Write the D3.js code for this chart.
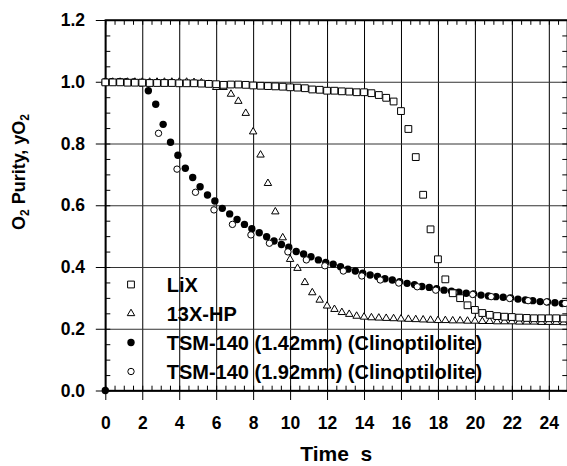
<!DOCTYPE html>
<html>
<head>
<meta charset="utf-8">
<script src="https://cdn.jsdelivr.net/npm/d3@7/dist/d3.min.js"></script>
<style>
  body { margin: 0; background: #fff; }
  svg { display: block; font-family: "Liberation Sans", Arial, sans-serif; font-weight: bold; }
</style>
</head>
<body>
<svg id="chart" width="567" height="466"></svg>
<script>
// --- data (time in s, O2 purity as fraction) ---
const xMajorTicks = [0, 2, 4, 6, 8, 10, 12, 14, 16, 18, 20, 22, 24];
const yMajorTicks = [0, 0.2, 0.4, 0.6, 0.8, 1.0, 1.2];

const lixTime = [0, 0.4, 0.8, 1.2, 1.6, 2, 2.4, 2.8, 3.2, 3.6, 4, 4.4, 4.8, 5.2, 5.6, 6, 6.4, 6.8, 7.2, 7.6, 8,
  8.4, 8.8, 9.2, 9.6, 10, 10.4, 10.8, 11.2, 11.6, 12, 12.4, 12.8, 13.2, 13.6, 14, 14.4, 14.8, 15.2, 15.6, 16,
  16.4, 16.8, 17.2, 17.6, 18, 18.4, 18.8, 19.2, 19.6, 20, 20.4, 20.8, 21.2, 21.6, 22, 22.4, 22.8, 23.2, 23.6, 24,
  24.4, 24.8];
const lixPurity = [0.998, 0.998, 0.998, 0.997, 0.997, 0.997, 0.996, 0.996, 0.996, 0.996, 0.995,
  0.995, 0.995, 0.994, 0.993, 0.992, 0.990, 0.991, 0.991, 0.990, 0.988,
  0.987, 0.986, 0.985, 0.984, 0.982, 0.981, 0.979, 0.975, 0.974, 0.971,
  0.971, 0.969, 0.968, 0.966, 0.966, 0.963, 0.957, 0.948, 0.936, 0.905,
  0.847, 0.756, 0.634, 0.522, 0.425, 0.360, 0.315, 0.299, 0.276, 0.261,
  0.251, 0.245, 0.241, 0.239, 0.238, 0.236, 0.235, 0.234, 0.234, 0.234,
  0.234, 0.233];

const x13Time = lixTime;
const x13Purity = [0.999, 0.999, 0.999, 0.999, 0.999, 0.999, 0.999, 0.999, 0.999, 0.999, 0.999,
  0.999, 0.998, 0.997, 0.992, 0.982, 0.982, 0.960, 0.937, 0.898, 0.838,
  0.763, 0.671, 0.579, 0.495, 0.425, 0.396, 0.350, 0.317, 0.293, 0.274,
  0.263, 0.253, 0.247, 0.241, 0.238, 0.236, 0.235, 0.234, 0.233, 0.232,
  0.231, 0.230, 0.229, 0.228, 0.227, 0.227, 0.226, 0.226, 0.225, 0.225,
  0.224, 0.224, 0.223, 0.223, 0.223, 0.222, 0.222, 0.222, 0.221, 0.221,
  0.221, 0.220];

const tsm142Time = [0, 0, 0.33, 0.73, 1.13, 1.53, 1.93, 2.33, 2.73, 3.13, 3.53, 3.93, 4.33, 4.73, 5.13, 5.53,
  5.93, 6.33, 6.73, 7.13, 7.53, 7.93, 8.33, 8.73, 9.13, 9.53, 9.93, 10.33, 10.73, 11.13, 11.53, 11.93, 12.33,
  12.73, 13.13, 13.53, 13.93, 14.33, 14.73, 15.13, 15.53, 15.93, 16.33, 16.73, 17.13, 17.53, 17.93, 18.33,
  18.73, 19.13, 19.53, 19.93, 20.33, 20.73, 21.13, 21.53, 21.93, 22.33, 22.73, 23.13, 23.53, 23.93, 24.33, 24.73];
const tsm142Purity = [0, 1.0, 1.0, 1.0, 1.0, 0.999, 0.996, 0.971, 0.927, 0.862, 0.804, 0.762, 0.720, 0.690,
  0.660, 0.633, 0.614, 0.590, 0.572, 0.554, 0.538, 0.524, 0.511, 0.498, 0.484, 0.473, 0.464, 0.450, 0.442,
  0.433, 0.423, 0.415, 0.409, 0.401, 0.393, 0.387, 0.380, 0.374, 0.369, 0.362, 0.358, 0.352, 0.347, 0.343,
  0.337, 0.334, 0.330, 0.325, 0.322, 0.318, 0.315, 0.313, 0.309, 0.306, 0.304, 0.302, 0.300, 0.296, 0.293,
  0.291, 0.288, 0.287, 0.284, 0.282];

const tsm192Time = [0.88, 1.88, 2.88, 3.88, 4.88, 5.88, 6.88, 7.88, 8.88, 9.88, 10.88, 11.88, 12.88, 13.88,
  14.88, 15.88, 16.88, 17.88, 18.88, 19.88, 20.88, 21.88, 22.88, 23.88, 24.88];
const tsm192Purity = [1.0, 0.998, 0.833, 0.717, 0.642, 0.585, 0.538, 0.504, 0.477, 0.449, 0.423, 0.404,
  0.387, 0.371, 0.358, 0.348, 0.336, 0.325, 0.317, 0.311, 0.304, 0.298, 0.291, 0.287, 0.282];

const seriesNames = ['LiX', '13X-HP', 'TSM-140 (1.42mm) (Clinoptilolite)', 'TSM-140 (1.92mm) (Clinoptilolite)'];

// --- layout ---
const svg = d3.select('#chart');
const x = d3.scaleLinear().domain([0, 25]).range([105.3, 567.3]);
const y = d3.scaleLinear().domain([0, 1.2]).range([390.5, 20]);
const plotW = x(25) - x(0);
const plotH = y(0) - y(1.2);

const xMinor = d3.range(0, 25.01, 0.5);
const yMinor = d3.range(0, 1.201, 0.05);

const styleAxis = (g, w) => {
  g.selectAll('line').attr('stroke', '#000').attr('stroke-width', w);
  g.selectAll('path').attr('stroke', '#000').attr('stroke-width', 1.4);
  g.attr('font-family', null).attr('font-size', null);
};

// grid
svg.append('g')
  .attr('transform', `translate(0,${y(0)})`)
  .call(d3.axisBottom(x).tickValues(xMajorTicks).tickSize(-plotH).tickFormat(''))
  .call(g => g.select('.domain').remove())
  .call(g => styleAxis(g, 1));
svg.append('g')
  .attr('transform', `translate(${x(0)},0)`)
  .call(d3.axisLeft(y).tickValues(yMajorTicks).tickSize(-plotW).tickFormat(''))
  .call(g => g.select('.domain').remove())
  .call(g => styleAxis(g, 1))
  .call(g => g.selectAll('line').attr('stroke', '#333'));

// minor ticks (inward) on all four sides
svg.append('g').attr('transform', `translate(0,${y(0)})`)
  .call(d3.axisBottom(x).tickValues(xMinor).tickSize(-4.8).tickSizeOuter(0).tickFormat(''))
  .call(g => styleAxis(g, 1));
svg.append('g').attr('transform', `translate(0,${y(1.2)})`)
  .call(d3.axisTop(x).tickValues(xMinor).tickSize(-4.8).tickSizeOuter(0).tickFormat(''))
  .call(g => styleAxis(g, 1));
svg.append('g').attr('transform', `translate(${x(0)},0)`)
  .call(d3.axisLeft(y).tickValues(yMinor).tickSize(-5).tickSizeOuter(0).tickFormat(''))
  .call(g => styleAxis(g, 1));
svg.append('g').attr('transform', `translate(${x(25)},0)`)
  .call(d3.axisRight(y).tickValues(yMinor).tickSize(-5).tickSizeOuter(0).tickFormat(''))
  .call(g => styleAxis(g, 1));

// major ticks with labels (outward)
svg.append('g').attr('transform', `translate(0,${y(0)})`)
  .call(d3.axisBottom(x).tickValues(xMajorTicks).tickSize(9.5).tickSizeOuter(0).tickPadding(17).tickFormat(d3.format('d')))
  .call(g => styleAxis(g, 1))
  .call(g => g.select('.domain').remove())
  .call(g => g.selectAll('text').attr('font-size', 17.5).attr('fill', '#000'));
svg.append('g').attr('transform', `translate(${x(0)},0)`)
  .call(d3.axisLeft(y).tickValues(yMajorTicks).tickSize(9.5).tickSizeOuter(0).tickPadding(10.8).tickFormat(d3.format('.1f')))
  .call(g => styleAxis(g, 1))
  .call(g => g.select('.domain').remove())
  .call(g => g.selectAll('text').attr('font-size', 17.5).attr('fill', '#000'));

// frame
svg.append('rect')
  .attr('x', x(0)).attr('y', y(1.2)).attr('width', plotW).attr('height', plotH)
  .attr('fill', 'none').attr('stroke', '#000').attr('stroke-width', 1.4);

// markers
const sym = {
  square: d3.symbol().type(d3.symbolSquare).size(46)(),
  triangle: d3.symbol().type(d3.symbolTriangle).size(24)()
};
const drawMarker = (sel, kind) => {
  if (kind === 'filled') {
    sel.append('circle').attr('r', 3.7).attr('fill', '#000');
  } else if (kind === 'open') {
    sel.append('circle').attr('r', 3.2).attr('fill', '#fff').attr('stroke', '#000').attr('stroke-width', 1);
  } else {
    sel.append('path').attr('d', sym[kind]).attr('fill', '#fff').attr('stroke', '#000').attr('stroke-width', 1);
  }
};

const series = [
  {kind: 'filled', pts: d3.zip(tsm142Time, tsm142Purity)},
  {kind: 'open', pts: d3.zip(tsm192Time, tsm192Purity)},
  {kind: 'triangle', pts: d3.zip(x13Time, x13Purity)},
  {kind: 'square', pts: d3.zip(lixTime, lixPurity)}
];
series.forEach(s => {
  svg.append('g').selectAll('g')
    .data(s.pts)
    .join('g')
    .attr('transform', d => `translate(${x(d[0])},${y(d[1])})`)
    .each(function() { drawMarker(d3.select(this), s.kind); });
});

// legend
const legendKinds = ['square', 'triangle', 'filled', 'open'];
const legend = svg.append('g');
seriesNames.forEach((name, i) => {
  const row = legend.append('g').attr('transform', `translate(131,${284.5 + i * 29})`);
  drawMarker(row, legendKinds[i]);
  row.append('text').attr('x', 35.7).attr('dy', '0.36em')
    .attr('font-size', 20).text(name);
});

// axis titles
svg.append('text')
  .attr('x', (x(0) + x(25)) / 2).attr('y', 461)
  .attr('text-anchor', 'middle').attr('font-size', 21)
  .text('Time\u00a0\u00a0s');

const yt = svg.append('text')
  .attr('transform', 'translate(25,172) rotate(-90)')
  .attr('text-anchor', 'middle').attr('font-size', 18);
yt.append('tspan').text('O');
yt.append('tspan').attr('font-size', 12).attr('dy', 4).text('2');
yt.append('tspan').attr('dy', -4).text(' Purity, yO');
yt.append('tspan').attr('font-size', 12).attr('dy', 4).text('2');
</script>
</body>
</html>
